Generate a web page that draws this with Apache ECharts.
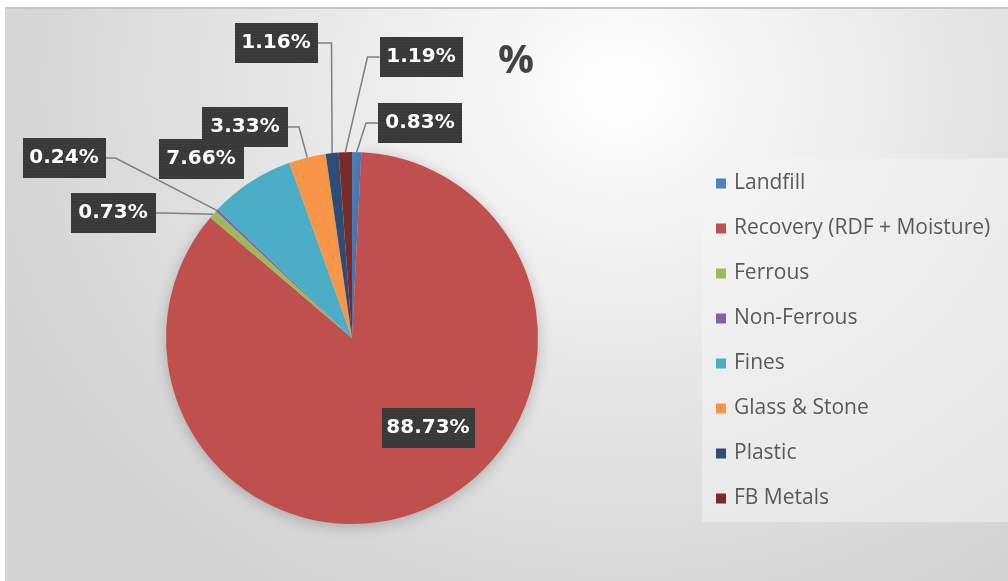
<!DOCTYPE html>
<html>
<head>
<meta charset="utf-8">
<script src="https://cdn.jsdelivr.net/npm/echarts@6/dist/echarts.min.js"></script>
<style>
html,body{margin:0;padding:0;background:#fff;width:1008px;height:581px;overflow:hidden}
#chart{position:absolute;left:5px;top:7px;width:1003px;height:574px;
background:radial-gradient(ellipse 660px 580px at 615px 83px,#ffffff 0%,#f4f4f4 22%,#e3e3e3 58%,#d3d3d3 100%);}
#topline{position:absolute;left:5px;top:7px;width:1003px;height:2px;background:#c6c6c6;z-index:5}
</style>
</head>
<body>
<div id="chart"></div>
<div id="topline"></div>
<script>
// ---- data ----
const categories = ['Landfill', 'Recovery (RDF + Moisture)', 'Ferrous', 'Non-Ferrous', 'Fines', 'Glass & Stone', 'Plastic', 'FB Metals'];
const values = [0.83, 88.73, 0.73, 0.24, 7.66, 3.33, 1.16, 1.19];
const colors = ['#4F81BD', '#C0504D', '#9BBB59', '#8064A2', '#4BACC6', '#F79646', '#2C4D75', '#772C2A'];
const titleText = '%';

// ---- label placement (layout only) ----
const LABEL_PAD_X = 7;
const LABEL_LAYOUT = [
  {x: 415, y: 116, w: 70, side: 'left', arm: 12},
  {x: 423, y: 421, w: 79},
  {x: 108, y: 206, w: 71, side: 'right', arm: 10},
  {x: 59, y: 151, w: 69, side: 'right', arm: 10},
  {x: 196, y: 152, w: 71},
  {x: 240, y: 120, w: 72, side: 'right', arm: 11},
  {x: 271, y: 36, w: 69, side: 'right', arm: 14},
  {x: 416, y: 50, w: 69, side: 'left', arm: 12}
];

// dotted dark texture for label boxes
const pc = document.createElement('canvas');
pc.width = 84; pc.height = 40;
const g = pc.getContext('2d');
g.fillStyle = '#393939'; g.fillRect(0, 0, 84, 40);
g.fillStyle = '#474747';
for (let y = 1; y < 40; y += 3) {
  for (let x = (y % 2) ? 0 : 1.5; x < 84; x += 3) g.fillRect(x, y, 1, 1);
}

const chart = echarts.init(document.getElementById('chart'), null, {renderer: 'canvas'});
chart.setOption({
  animation: false,
  backgroundColor: 'transparent',
  title: {
    text: titleText, left: 488, top: 29,
    textStyle: {fontFamily: 'Open Sans', fontSize: 40, fontWeight: 'bold', color: '#434343', lineHeight: 42}
  },
  legend: {
    orient: 'vertical', left: 697, top: 151,
    padding: [15, 18, 13, 14],
    backgroundColor: 'rgba(244,244,244,0.55)',
    itemWidth: 10, itemHeight: 10, itemGap: 24,
    icon: 'rect',
    textStyle: {fontFamily: 'Open Sans', fontSize: 21, lineHeight: 21, color: '#595959', padding: [0, 0, 0, 3]},
    data: categories
  },
  series: [{
    type: 'pie',
    center: [347, 331],
    radius: 186,
    startAngle: 90,
    clockwise: true,
    avoidLabelOverlap: false,
    itemStyle: {borderWidth: 0},
    label: {
      show: true, position: 'outside', overflow: 'none',
      formatter: p => p.value.toFixed(2) + '%',
      color: '#ffffff', fontFamily: 'DejaVu Sans', fontWeight: 'bold', fontSize: 20, lineHeight: 24,
      padding: [8, LABEL_PAD_X],
      backgroundColor: {image: pc},
      shadowColor: 'rgba(0,0,0,0.45)', shadowBlur: 5, shadowOffsetX: 2, shadowOffsetY: 2
    },
    labelLine: {show: true, lineStyle: {color: '#7f7f7f', width: 1.5}},
    labelLayout: function (p) {
      const cfg = LABEL_LAYOUT[p.dataIndex];
      const half = (cfg.w + 2 * LABEL_PAD_X) / 2;
      const res = {x: cfg.x, y: cfg.y, width: cfg.w, align: 'center', verticalAlign: 'middle'};
      if (cfg.side && p.labelLinePoints) {
        const a = p.labelLinePoints[0];
        const edgeX = cfg.side === 'right' ? cfg.x + half : cfg.x - half;
        const turnX = cfg.side === 'right' ? edgeX + cfg.arm : edgeX - cfg.arm;
        res.labelLinePoints = [[a[0], a[1]], [turnX, cfg.y], [edgeX, cfg.y]];
      }
      return res;
    },
    data: categories.map((n, i) => ({
      name: n, value: values[i],
      itemStyle: i === 1
        ? {color: colors[i], shadowColor: 'rgba(0,0,0,0.22)', shadowBlur: 14, shadowOffsetY: 3}
        : {color: colors[i]},
      labelLine: {show: !!LABEL_LAYOUT[i].side}
    }))
  }]
});
</script>
</body>
</html>
